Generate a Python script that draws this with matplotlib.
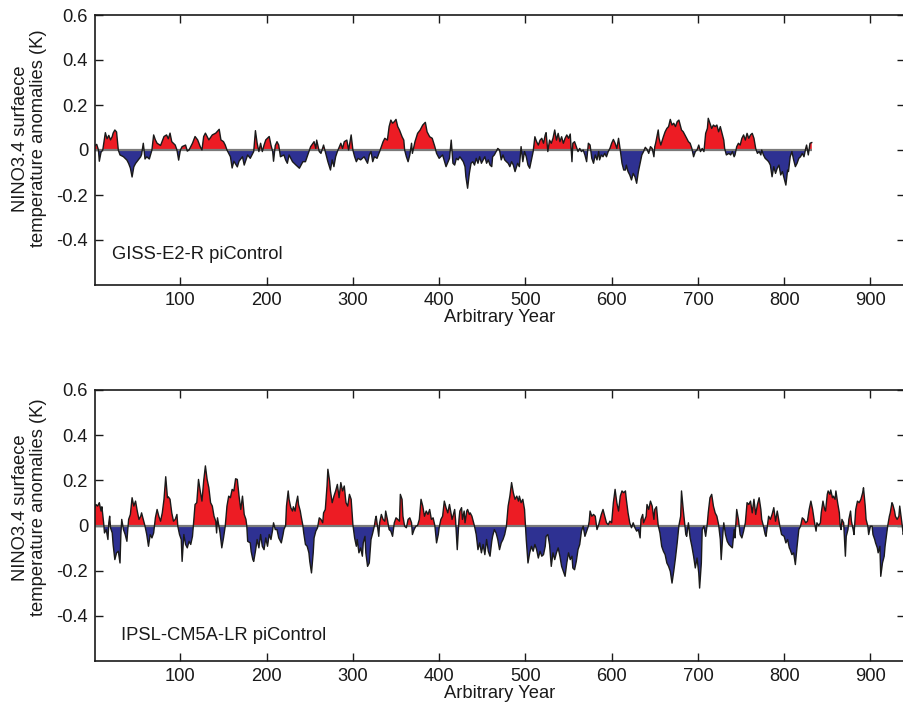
import numpy as np
import matplotlib
matplotlib.use('Agg')
import matplotlib.pyplot as plt

plt.rcParams['font.family'] = ['Liberation Sans', 'DejaVu Sans']

# ---------------- data (year, anomaly K) ----------------
giss = [
    (1, 0.02), (3, 0.025), (5, 0.0), (6, -0.05), (8, -0.01), (10, 0.0), (13, 0.077), (15, 0.05),
    (17, 0.065), (19, 0.045), (21, 0.06), (22, 0.075), (24, 0.089), (26, 0.08), (28, 0.0), (30, -0.022),
    (34, -0.03), (38, -0.045), (40, -0.06), (42, -0.08), (44, -0.12), (46, -0.075), (48, -0.06), (50, -0.05),
    (52, -0.04), (54, -0.03), (55, -0.02), (57, 0.03), (59, -0.04), (61, -0.03), (64, -0.04), (67, 0.0),
    (69, 0.067), (71, 0.045), (73, 0.03), (77, 0.02), (79, 0.04), (81, 0.06), (84, 0.067), (86, 0.05),
    (88, 0.075), (90, 0.037), (94, 0.022), (96, 0.0), (98, -0.045), (100, 0.0), (102, 0.015), (106, 0.022),
    (108, -0.005), (110, 0.0), (114, 0.03), (117, 0.06), (120, 0.045), (123, 0.015), (125, 0.0), (127, 0.06),
    (129, 0.075), (133, 0.045), (137, 0.067), (141, 0.075), (145, 0.092), (147, 0.045), (150, 0.037), (152, 0.022),
    (154, 0.0), (158, -0.03), (160, -0.08), (162, -0.05), (166, -0.075), (168, -0.05), (172, -0.03), (174, -0.067),
    (178, -0.022), (181, -0.037), (185, -0.007), (187, 0.086), (189, 0.03), (191, -0.007), (193, 0.03), (195, -0.007),
    (197, 0.022), (199, 0.045), (203, 0.06), (205, 0.022), (207, -0.007), (208, -0.05), (210, 0.02), (212, 0.037),
    (214, 0.022), (216, -0.03), (220, -0.022), (222, -0.044), (224, -0.059), (226, -0.022), (230, -0.052), (234, -0.067),
    (238, -0.081), (242, -0.052), (245, -0.052), (247, -0.03), (251, 0.015), (255, 0.037), (257, 0.007), (258, 0.044),
    (261, -0.007), (263, -0.015), (266, 0.022), (269, -0.022), (271, -0.052), (274, -0.089), (276, -0.044), (278, -0.074),
    (280, -0.03), (282, -0.007), (286, 0.03), (288, 0.007), (290, 0.037), (293, 0.044), (295, 0.0), (298, 0.067),
    (300, 0.0), (302, -0.03), (304, -0.052), (306, -0.037), (309, -0.044), (313, -0.03), (317, -0.059), (319, -0.022),
    (321, -0.007), (323, -0.052), (325, -0.03), (328, -0.037), (331, -0.007), (335, 0.037), (337, 0.052), (340, 0.044),
    (342, 0.104), (344, 0.133), (346, 0.119), (348, 0.126), (350, 0.136), (352, 0.104), (354, 0.089), (357, 0.059),
    (359, 0.044), (360, 0.0), (362, -0.03), (364, -0.052), (366, -0.022), (368, 0.03), (369, -0.015), (372, 0.037),
    (375, 0.074), (378, 0.089), (381, 0.111), (384, 0.123), (386, 0.081), (389, 0.059), (392, 0.052), (395, 0.015),
    (397, -0.015), (400, -0.037), (404, -0.022), (408, -0.074), (412, -0.037), (414, 0.044), (416, -0.059), (418, -0.067),
    (420, -0.037), (422, -0.044), (424, -0.03), (428, -0.052), (430, -0.074), (431, -0.119), (433, -0.17), (435, -0.104),
    (437, -0.059), (439, -0.052), (441, -0.067), (443, -0.037), (445, -0.059), (447, -0.03), (449, -0.059), (451, -0.044),
    (453, -0.03), (455, -0.059), (457, -0.044), (459, -0.067), (461, -0.074), (462, -0.03), (464, -0.022), (466, -0.007),
    (468, 0.007), (470, 0.0), (472, -0.044), (474, -0.022), (476, -0.044), (478, -0.052), (480, -0.059), (482, -0.074),
    (484, -0.052), (486, -0.067), (488, -0.096), (491, -0.059), (493, -0.074), (495, 0.015), (497, -0.052), (499, -0.007),
    (501, -0.03), (503, -0.067), (505, -0.081), (507, -0.044), (509, -0.007), (511, 0.059), (513, 0.037), (515, 0.022),
    (517, 0.044), (519, 0.052), (521, 0.03), (523, 0.067), (524, 0.077), (526, -0.007), (528, 0.044), (530, 0.03),
    (532, 0.052), (534, 0.089), (536, 0.044), (538, 0.074), (540, 0.037), (542, 0.059), (544, 0.03), (546, 0.052),
    (548, 0.067), (550, 0.052), (552, 0.071), (553, 0.007), (554, -0.052), (555, 0.03), (557, 0.037), (559, 0.015),
    (561, -0.007), (563, 0.007), (565, -0.007), (567, 0.0), (569, -0.022), (571, -0.052), (573, 0.03), (575, 0.022),
    (577, -0.037), (579, -0.059), (581, -0.022), (583, -0.044), (585, -0.007), (586, -0.044), (588, -0.022), (590, -0.03),
    (592, -0.015), (594, -0.03), (596, -0.007), (598, 0.007), (600, 0.03), (602, 0.047), (604, 0.03), (606, 0.007),
    (608, 0.052), (610, 0.0), (612, -0.059), (614, -0.089), (616, -0.089), (617, -0.067), (619, -0.096), (621, -0.111),
    (623, -0.133), (625, -0.104), (627, -0.119), (629, -0.148), (631, -0.096), (633, -0.059), (635, -0.022), (637, -0.007),
    (639, 0.012), (641, 0.003), (643, -0.015), (645, 0.015), (647, 0.007), (649, -0.03), (650, 0.015), (651, 0.03),
    (654, 0.089), (655, 0.052), (657, 0.022), (660, 0.059), (662, 0.081), (664, 0.096), (666, 0.104), (668, 0.136),
    (670, 0.111), (672, 0.119), (674, 0.104), (676, 0.126), (678, 0.133), (680, 0.104), (681, 0.089), (683, 0.081),
    (685, 0.067), (687, 0.052), (689, 0.037), (691, 0.03), (693, 0.007), (695, -0.03), (697, -0.007), (699, 0.0),
    (701, 0.022), (703, -0.007), (705, 0.007), (707, -0.007), (709, 0.074), (711, 0.096), (712, 0.141), (714, 0.119),
    (716, 0.096), (718, 0.111), (720, 0.104), (722, 0.111), (724, 0.081), (726, 0.104), (728, 0.074), (730, 0.044),
    (731, 0.007), (733, -0.022), (736, -0.015), (738, -0.022), (740, -0.007), (742, -0.03), (743, -0.022), (745, 0.015),
    (747, 0.03), (749, 0.022), (751, 0.052), (753, 0.067), (755, 0.044), (757, 0.074), (759, 0.052), (761, 0.067),
    (763, 0.074), (765, 0.052), (767, 0.007), (769, -0.015), (771, -0.007), (773, -0.022), (774, 0.0), (776, -0.022),
    (778, -0.037), (780, -0.044), (782, -0.052), (784, -0.067), (786, -0.119), (788, -0.074), (790, -0.104), (792, -0.081),
    (794, -0.067), (796, -0.111), (798, -0.096), (800, -0.126), (802, -0.156), (804, -0.089), (805, -0.096), (807, -0.03),
    (809, -0.007), (811, -0.044), (813, -0.074), (815, -0.059), (817, -0.037), (819, -0.03), (821, -0.015), (823, -0.03),
    (825, 0.007), (826, 0.022), (828, -0.022), (830, 0.03), (832, 0.033),
]

ipsl = [
    (1, 0.08), (2, 0.093), (4, 0.086), (6, 0.101), (8, 0.064), (9, 0.083), (11, 0.012), (12, -0.033),
    (14, -0.018), (16, -0.062), (17, 0.012), (18, 0.041), (19, -0.01), (21, -0.033), (22, -0.084), (24, -0.151),
    (26, -0.121), (28, -0.114), (30, -0.166), (31, -0.04), (32, 0.027), (34, -0.018), (36, -0.04), (38, -0.07),
    (39, -0.018), (40, 0.027), (42, 0.049), (44, 0.123), (46, 0.086), (48, 0.108), (50, 0.064), (52, 0.027),
    (54, 0.041), (55, 0.056), (57, 0.027), (59, -0.003), (61, -0.04), (63, -0.092), (65, -0.04), (67, -0.055),
    (69, -0.033), (71, 0.034), (73, 0.071), (75, 0.041), (77, 0.019), (79, 0.056), (81, 0.116), (83, 0.216),
    (85, 0.123), (86, 0.127), (88, 0.116), (90, 0.056), (92, 0.019), (94, 0.027), (96, 0.049), (97, -0.003),
    (99, -0.04), (101, -0.062), (102, -0.159), (104, -0.04), (106, -0.084), (108, -0.099), (110, -0.07), (112, -0.084),
    (114, -0.048), (115, -0.003), (117, 0.093), (119, 0.101), (121, 0.204), (123, 0.153), (125, 0.108), (127, 0.197),
    (129, 0.264), (131, 0.204), (133, 0.167), (135, 0.101), (137, 0.086), (139, 0.041), (141, 0.019), (142, -0.033),
    (143, 0.034), (146, -0.033), (148, -0.099), (150, -0.055), (152, -0.003), (154, 0.086), (156, 0.13), (158, 0.123),
    (160, 0.16), (162, 0.153), (164, 0.207), (166, 0.204), (168, 0.13), (170, 0.071), (172, 0.13), (174, 0.049),
    (176, 0.027), (177, -0.003), (178, -0.07), (181, -0.077), (182, -0.114), (184, -0.151), (185, -0.159), (187, -0.114),
    (189, -0.062), (191, -0.099), (193, -0.04), (195, -0.092), (197, -0.107), (199, -0.055), (201, -0.092), (203, -0.04),
    (205, -0.062), (207, -0.018), (208, 0.012), (210, -0.018), (212, -0.018), (214, -0.055), (217, -0.077), (219, -0.04),
    (220, -0.018), (222, 0.0), (223, 0.086), (225, 0.153), (226, 0.116), (228, 0.079), (230, 0.064), (231, 0.083),
    (233, 0.064), (234, 0.093), (236, 0.13), (237, 0.093), (239, 0.064), (240, 0.041), (242, 0.0), (243, -0.033),
    (245, -0.084), (247, -0.092), (249, -0.121), (250, -0.159), (252, -0.21), (254, -0.121), (255, -0.055), (257, -0.025),
    (259, -0.01), (261, 0.034), (263, 0.027), (265, 0.012), (266, 0.056), (268, 0.071), (270, 0.175), (271, 0.249),
    (273, 0.197), (274, 0.153), (276, 0.101), (278, 0.13), (280, 0.153), (282, 0.182), (284, 0.123), (286, 0.19),
    (288, 0.153), (290, 0.175), (292, 0.101), (294, 0.086), (296, 0.138), (298, 0.116), (300, 0.004), (302, -0.055),
    (304, -0.092), (305, -0.062), (307, -0.121), (309, -0.099), (311, -0.136), (312, -0.077), (314, -0.048), (315, -0.121),
    (317, -0.181), (319, -0.166), (321, -0.062), (323, -0.033), (325, 0.0), (326, 0.027), (327, 0.041), (330, -0.048),
    (331, 0.012), (333, 0.049), (335, 0.027), (337, 0.019), (338, 0.064), (340, 0.027), (342, -0.018), (344, -0.025),
    (346, -0.048), (348, 0.012), (350, 0.034), (352, 0.027), (354, 0.019), (355, 0.138), (357, 0.116), (358, 0.041),
    (360, -0.003), (362, -0.01), (364, 0.027), (366, 0.034), (368, 0.012), (369, -0.04), (371, -0.018), (373, -0.003),
    (375, 0.0), (377, 0.027), (379, 0.116), (381, 0.086), (383, 0.041), (385, 0.064), (387, 0.049), (389, 0.071),
    (391, 0.027), (393, 0.034), (395, 0.0), (397, -0.077), (399, -0.04), (400, -0.01), (402, 0.027), (404, 0.041),
    (406, 0.108), (408, 0.079), (410, 0.056), (412, 0.093), (415, 0.027), (416, 0.041), (418, 0.071), (419, 0.027),
    (421, -0.107), (423, 0.027), (424, 0.064), (426, 0.079), (427, 0.027), (429, 0.064), (430, 0.012), (432, 0.064),
    (433, 0.071), (435, 0.049), (436, 0.056), (438, 0.041), (440, 0.012), (441, -0.003), (443, -0.04), (445, -0.107),
    (447, -0.077), (449, -0.121), (451, -0.084), (453, -0.129), (455, -0.062), (457, -0.114), (459, -0.136), (461, -0.07),
    (462, -0.048), (464, -0.018), (466, -0.033), (468, -0.062), (470, -0.107), (472, -0.077), (474, -0.062), (476, -0.04),
    (478, -0.003), (480, 0.086), (482, 0.13), (484, 0.19), (486, 0.145), (488, 0.116), (490, 0.13), (492, 0.108),
    (493, 0.13), (495, 0.101), (497, 0.116), (499, 0.071), (500, 0.0), (501, -0.062), (503, -0.166), (505, -0.121),
    (507, -0.092), (509, -0.114), (511, -0.084), (513, -0.107), (515, -0.144), (517, -0.114), (519, -0.136), (521, -0.129),
    (523, -0.092), (524, -0.048), (526, -0.04), (528, -0.084), (530, -0.181), (532, -0.121), (534, -0.151), (536, -0.121),
    (538, -0.099), (540, -0.136), (542, -0.181), (544, -0.203), (546, -0.225), (548, -0.166), (550, -0.121), (552, -0.151),
    (554, -0.136), (555, -0.188), (557, -0.196), (559, -0.159), (561, -0.107), (563, -0.084), (565, -0.025), (567, -0.003),
    (569, -0.048), (571, -0.025), (573, -0.003), (574, 0.019), (575, 0.064), (577, 0.041), (579, 0.049), (581, 0.041),
    (583, -0.018), (585, 0.004), (586, 0.019), (588, 0.049), (590, 0.071), (592, 0.041), (594, 0.012), (596, 0.004),
    (598, 0.019), (600, 0.012), (602, 0.101), (604, 0.16), (606, 0.101), (608, 0.064), (610, 0.13), (612, 0.153),
    (614, 0.145), (616, 0.153), (617, 0.116), (619, 0.056), (621, 0.012), (623, -0.01), (625, 0.012), (627, -0.01),
    (629, -0.025), (631, -0.018), (633, -0.055), (634, 0.027), (636, 0.049), (637, 0.012), (640, 0.041), (641, 0.093),
    (643, 0.071), (645, 0.108), (647, 0.086), (649, 0.027), (650, 0.071), (652, 0.083), (654, 0.0), (656, -0.033),
    (658, -0.092), (660, -0.114), (662, -0.129), (664, -0.166), (666, -0.181), (668, -0.203), (670, -0.255), (672, -0.203),
    (674, -0.144), (676, -0.077), (678, 0.0), (680, 0.041), (681, 0.153), (683, 0.071), (685, 0.0), (686, -0.04),
    (687, -0.048), (689, 0.012), (691, -0.055), (693, -0.092), (695, -0.136), (697, -0.188), (699, -0.144), (701, -0.211),
    (702, -0.277), (704, -0.166), (705, -0.018), (707, -0.003), (709, -0.048), (711, 0.012), (712, 0.056), (714, 0.123),
    (716, 0.138), (718, 0.086), (720, 0.056), (722, 0.041), (724, 0.004), (726, -0.062), (727, -0.151), (729, -0.033),
    (730, 0.012), (732, -0.04), (734, -0.07), (736, -0.084), (738, -0.092), (740, -0.099), (742, -0.018), (743, -0.055),
    (745, 0.071), (747, 0.027), (749, -0.04), (751, -0.055), (753, -0.025), (755, 0.012), (757, 0.101), (759, 0.093),
    (761, 0.108), (763, 0.056), (765, 0.116), (767, 0.049), (769, 0.093), (771, 0.123), (773, 0.071), (774, 0.027),
    (776, -0.003), (778, -0.04), (779, -0.048), (780, -0.018), (782, 0.041), (784, 0.027), (786, 0.049), (788, 0.079),
    (790, 0.019), (792, 0.064), (794, 0.019), (795, -0.003), (797, -0.04), (800, -0.048), (802, -0.077), (804, -0.062),
    (806, -0.099), (807, -0.107), (809, -0.129), (811, -0.121), (813, -0.173), (815, -0.092), (817, -0.018), (819, -0.003),
    (821, 0.034), (823, 0.027), (825, 0.012), (827, 0.019), (829, 0.071), (831, 0.108), (833, 0.071), (835, 0.019),
    (837, -0.025), (838, 0.012), (840, 0.0), (842, 0.012), (843, 0.056), (845, 0.108), (847, 0.071), (848, 0.064),
    (850, 0.138), (851, 0.153), (853, 0.138), (854, 0.157), (856, 0.123), (857, 0.13), (859, 0.116), (860, 0.153),
    (862, 0.101), (864, 0.056), (865, -0.003), (866, -0.018), (867, 0.027), (869, 0.012), (871, -0.136), (872, -0.048),
    (874, -0.018), (875, 0.027), (877, 0.064), (878, 0.019), (880, -0.018), (881, -0.04), (883, 0.071), (885, 0.108),
    (887, 0.101), (889, 0.116), (891, 0.145), (892, 0.167), (894, 0.086), (895, 0.027), (897, -0.003), (898, -0.04),
    (900, -0.003), (902, -0.003), (903, -0.04), (905, -0.062), (906, -0.077), (908, -0.099), (909, -0.121), (911, -0.092),
    (912, -0.225), (914, -0.166), (916, -0.136), (917, -0.092), (919, -0.033), (920, -0.003), (922, 0.041), (923, 0.056),
    (925, 0.101), (926, 0.093), (928, 0.064), (929, 0.041), (931, 0.027), (933, 0.041), (934, 0.086), (936, 0.027),
    (937, -0.003), (938, -0.04), (940, -0.018), (941, -0.062),
]

panel_labels = ['GISS-E2-R piControl', 'IPSL-CM5A-LR piControl']
x_ticks = [100, 200, 300, 400, 500, 600, 700, 800, 900]
y_ticks = [0.6, 0.4, 0.2, 0.0, -0.2, -0.4]
y_ticklabels = ['0.6', '0.4', '0.2', '0', '-0.2', '-0.4']
x_label = 'Arbitrary Year'
y_label = 'NINO3.4 surfaece\ntemperature anomalies (K)'

# ---------------- styling ----------------
RED = '#ED1C24'
BLUE = '#2E3192'
INK = '#1a1a1a'
FS = 13.2

W, H = 904, 707
fig = plt.figure(figsize=(W / 100, H / 100), dpi=100)


def add_ax(left, top, right, bottom):
    return fig.add_axes([left / W, 1 - bottom / H, (right - left) / W, (bottom - top) / H])


axes = [add_ax(95, 15, 904.9, 285), add_ax(95, 390, 904.9, 661)]
label_pos = [(0.021, 0.095), (0.032, 0.077)]
ylab_y = [0.543, 0.566]

for ax, series, name, (tx, ty), yly in zip(axes, [giss, ipsl], panel_labels, label_pos, ylab_y):
    yr = np.array([p[0] for p in series], dtype=float)
    v = np.array([p[1] for p in series], dtype=float)
    ax.fill_between(yr, v, 0, where=v >= 0, interpolate=True, color=RED, lw=0, zorder=1)
    ax.fill_between(yr, v, 0, where=v <= 0, interpolate=True, color=BLUE, lw=0, zorder=1)
    ax.hlines(0, yr.min(), yr.max(), color='#7a7a7a', lw=1.6, zorder=2)
    ax.plot(yr, v, color=INK, lw=1.0, zorder=3)

    ax.set_xlim(1, 940)
    ax.set_ylim(-0.6, 0.6)
    ax.set_xticks(x_ticks)
    ax.set_xticklabels([str(t) for t in x_ticks])
    ax.set_yticks(y_ticks)
    ax.set_yticklabels(y_ticklabels)
    ax.tick_params(direction='in', length=6, width=1.0, top=True, right=True,
                   labelsize=FS, pad=5, colors=INK)
    for s in ax.spines.values():
        s.set_linewidth(1.2)
        s.set_color(INK)
    ax.set_xlabel(x_label, fontsize=FS, labelpad=0, color=INK)
    ax.set_ylabel(y_label, fontsize=FS, linespacing=1.1, color=INK)
    ax.yaxis.set_label_coords(-0.059, yly)
    ax.text(tx, ty, name, transform=ax.transAxes, fontsize=FS, color=INK,
            ha='left', va='baseline')

fig.savefig('out.png', dpi=100)
